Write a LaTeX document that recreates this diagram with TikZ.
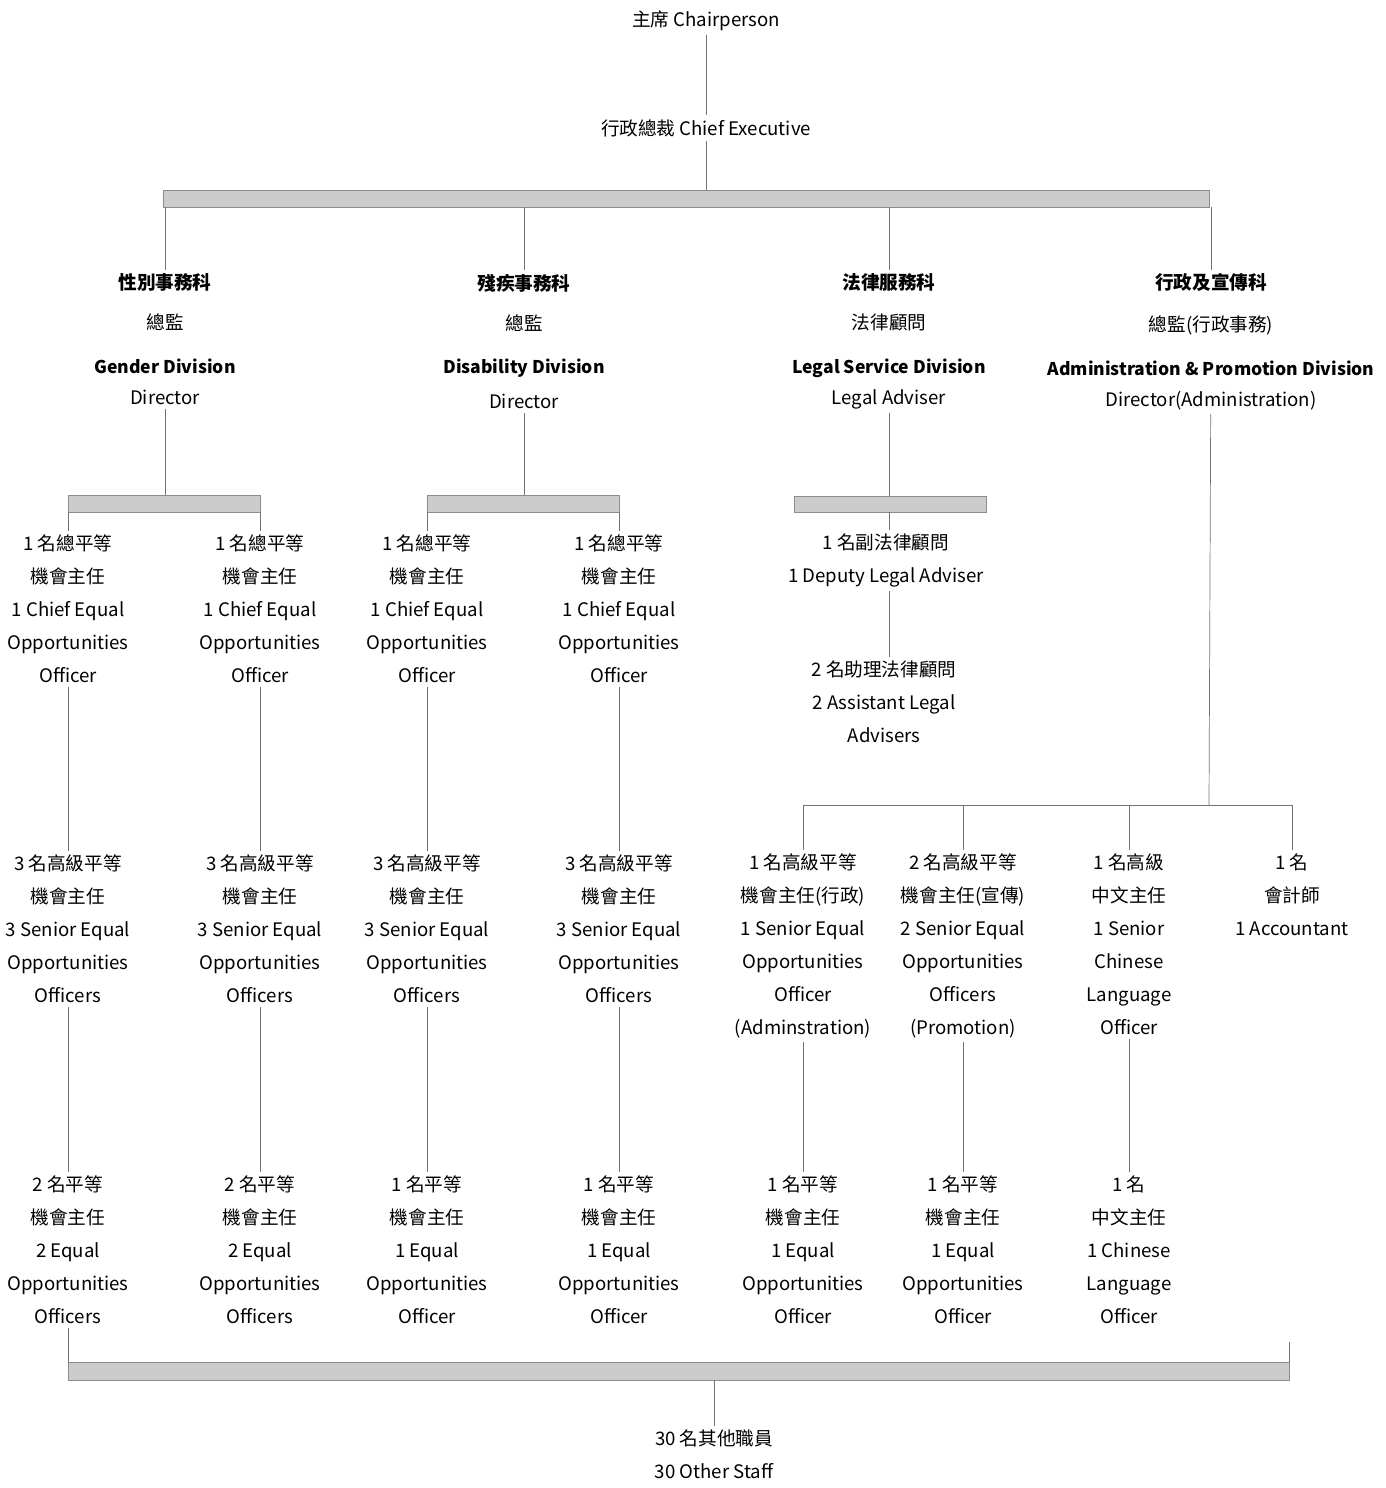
\documentclass[tikz,border=0pt]{standalone}
\usepackage{fontspec}
\setmainfont{Noto Sans CJK TC}
\usetikzlibrary{calc}
\newcommand\headfont{\fontsize{10}{18.8}\selectfont\bfseries}

\begin{document}
\begin{tikzpicture}[x=0.02cm, y=-0.02cm,
  post/.style={align=center, font=\fontsize{10.6}{18.8}\selectfont, inner sep=2pt},
  link/.style={draw=black!55, line width=0.4pt},
  bar/.style={draw=black!45, fill=black!20, line width=0.3pt}]%
  \useasboundingbox (0,0) rectangle (1386,1488);
  % top of the chart
  \node[post] (chair) at (706,21) {主席 Chairperson};
  \node[post] (ceo) at (706,128) {行政總裁 Chief Executive};
  \coordinate (tbar1) at (163,190);
  \coordinate (tbar2) at (1209,207);
  \draw[bar] (tbar1) rectangle (tbar2);
  \draw[link] (chair) -- (ceo);
  \draw[link] (ceo) -- (ceo |- tbar1);
  % the four divisions
  \node[post, anchor=north] (gdiv) at (165,270)
    {{\bfseries 性別事務科}\\[4pt] 總監\\[6pt] {\headfont Gender Division}\\[-1pt] Director};
  \node[post, anchor=north] (ddiv) at (524,270)
    {{\bfseries 殘疾事務科}\\[4pt] 總監\\[6pt] {\headfont Disability Division}\\[1pt] Director};
  \node[post, anchor=north] (ldiv) at (889,270)
    {{\bfseries 法律服務科}\\[4pt] 法律顧問\\[6pt] {\headfont Legal Service Division}\\[-1pt] Legal Adviser};
  \node[post, anchor=north] (adiv) at (1211,270)
    {{\bfseries 行政及宣傳科}\\[5pt] 總監(行政事務)\\[6pt] {\headfont Administration \& Promotion Division}\\[-1pt] Director(Administration)};
  \foreach \n in {gdiv, ddiv, ldiv, adiv}
    \draw[link] (\n.north |- tbar2) -- (\n);
  % sub bars
  \coordinate (gbar1) at (68,495);
  \coordinate (gbar2) at (260,512);
  \coordinate (dbar1) at (427,495);
  \coordinate (dbar2) at (619,512);
  \coordinate (lbar1) at (794,496);
  \coordinate (lbar2) at (986,512);
  \foreach \b in {gbar, dbar, lbar}
    \draw[bar] (\b1) rectangle (\b2);
  \draw[link] (gdiv) -- (gdiv |- gbar1);
  \draw[link] (ddiv) -- (ddiv |- dbar1);
  \draw[link] (ldiv) -- (ldiv |- lbar1);
  % gender and disability columns
  \foreach \x/\n/\b/\k/\o in {68/ga/gbar/2/Officers, 260/gb/gbar/2/Officers,
                               427/da/dbar/1/Officer, 619/db/dbar/1/Officer} {
    \node[post, anchor=north] (\n1) at (\x,531)
      {1 名總平等\\機會主任\\1 Chief Equal\\Opportunities\\Officer};
    \node[post, anchor=north] (\n2) at (\x,851)
      {3 名高級平等\\機會主任\\3 Senior Equal\\Opportunities\\Officers};
    \node[post, anchor=north] (\n3) at (\x,1172)
      {\k\ 名平等\\機會主任\\\k\ Equal\\Opportunities\\\o};
    \draw[link] (\n1 |- \b2) -- (\n1);
    \draw[link] (\n1) -- (\n2);
    \draw[link] (\n2) -- (\n3);
  }
  % legal column
  \node[post, anchor=north] (dla) at (886,530) {1 名副法律顧問\\1 Deputy Legal Adviser};
  \node[post, anchor=north] (ala) at (884,657) {2 名助理法律顧問\\2 Assistant Legal\\Advisers};
  \draw[link] (ldiv |- lbar2) -- (ldiv |- dla.north);
  \draw[link] (ldiv |- dla.south) -- (ldiv |- ala.north);
  % administration columns
  \coordinate (ahub) at (1209,805);
  \node[post, anchor=north] (aa1) at (803,850)
    {1 名高級平等\\機會主任(行政)\\1 Senior Equal\\Opportunities\\Officer\\(Adminstration)};
  \node[post, anchor=north] (ab1) at (963,850)
    {2 名高級平等\\機會主任(宣傳)\\2 Senior Equal\\Opportunities\\Officers\\(Promotion)};
  \node[post, anchor=north] (ac1) at (1129,850)
    {1 名高級\\中文主任\\1 Senior\\Chinese\\Language\\Officer};
  \node[post, anchor=north] (ad1) at (1292,850)
    {1 名\\會計師\\1 Accountant};
  \node[post, anchor=north] (aa3) at (803,1172)
    {1 名平等\\機會主任\\1 Equal\\Opportunities\\Officer};
  \node[post, anchor=north] (ab3) at (963,1172)
    {1 名平等\\機會主任\\1 Equal\\Opportunities\\Officer};
  \node[post, anchor=north] (ac3) at (1129,1172)
    {1 名\\中文主任\\1 Chinese\\Language\\Officer};
  \draw[link] (adiv) -- (ahub);
  \draw[link] (aa1 |- ahub) -- (ad1 |- ahub);
  \foreach \n in {aa1, ab1, ac1, ad1}
    \draw[link] (\n |- ahub) -- (\n);
  \foreach \n in {aa, ab, ac}
    \draw[link] (\n1) -- (\n3);
  % other staff
  \coordinate (bbar1) at (68,1362);
  \coordinate (bbar2) at (1289,1380);
  \coordinate (bend) at (1289,1342);
  \draw[bar] (bbar1) rectangle (bbar2);
  \draw[link] (ga3) -- (ga3 |- bbar1);
  \draw[link] (bend) -- (bend |- bbar1);
  \node[post, anchor=north] (staff) at (714,1426) {30 名其他職員\\30 Other Staff};
  \draw[link] (staff) -- (staff |- bbar2);
\end{tikzpicture}
\end{document}
